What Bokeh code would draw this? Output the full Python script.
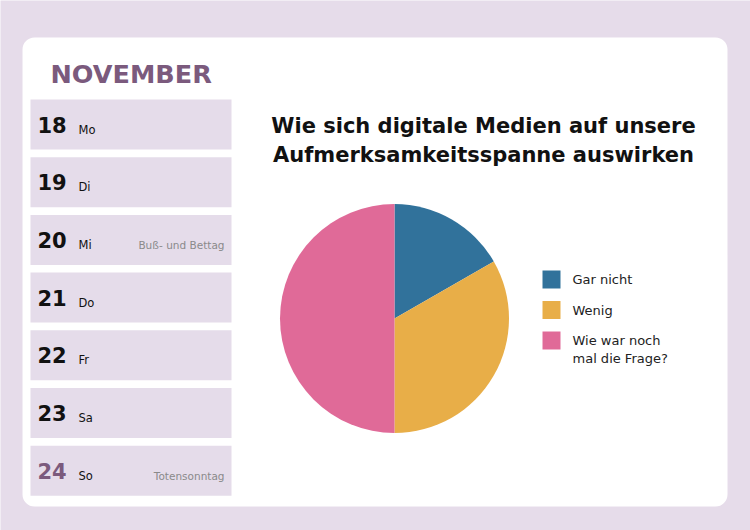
import math
from bokeh.plotting import figure
from bokeh.models import Range1d, ColumnDataSource
from bokeh.core.properties import value
from bokeh.embed import file_html
from bokeh.resources import INLINE

# ---- data ----
month = "NOVEMBER"
days = ["18", "19", "20", "21", "22", "23", "24"]
weekdays = ["Mo", "Di", "Mi", "Do", "Fr", "Sa", "So"]
holidays = ["", "", "Buß- und Bettag", "", "", "", "Totensonntag"]
title_lines = ["Wie sich digitale Medien auf unsere", "Aufmerksamkeitsspanne auswirken"]
categories = ["Gar nicht", "Wenig", "Wie war noch\nmal die Frage?"]
values = [16.7, 33.3, 50.0]
colors = ["#31729b", "#e8ae48", "#e06a98"]

W, H = 750, 530
FONT = "DejaVu Sans"
BG = "#e6dcea"
ROW = "#e5dcea"
PURPLE = "#7b5a7d"

def Y(px):
    return H - px

p = figure(width=W, height=H, x_range=Range1d(0, W), y_range=Range1d(0, H),
           output_backend="svg", toolbar_location=None, min_border=0,
           background_fill_color=BG, border_fill_color=BG, outline_line_color=None)
p.axis.visible = False
p.grid.visible = False

# card
p.quad(left=22, right=727, top=Y(37), bottom=Y(506), fill_color="white",
       line_color=None, border_radius=12)

# month title
p.text(x=[50], y=[Y(73)], text=[month], text_font=value(FONT), text_font_style="bold",
       text_font_size="25.5px", text_color=PURPLE, text_baseline="middle")

# calendar rows
step = 57.7
tops = [99 + i * step for i in range(len(days))]
rows = ColumnDataSource(dict(
    top=[Y(t) for t in tops], bottom=[Y(t + 50) for t in tops],
    ynum=[Y(t + 25) for t in tops], ysmall=[Y(t + 30) for t in tops],
    day=days, wd=weekdays, hol=holidays,
    dcol=["#111111"] * (len(days) - 1) + [PURPLE],
))
p.quad(left=30, right=231, top="top", bottom="bottom", source=rows,
       fill_color=ROW, line_color=None)
p.text(x=37, y="ynum", text="day", source=rows, text_font=value(FONT),
       text_font_style="bold", text_font_size="21px", text_color="dcol",
       text_baseline="middle")
p.text(x=78, y="ysmall", text="wd", source=rows, text_font=value(FONT),
       text_font_size="11.5px", text_color="#111111", text_baseline="middle")
p.text(x=224, y="ysmall", text="hol", source=rows, text_font=value(FONT),
       text_font_size="10.5px", text_color="#8a8a8a", text_baseline="middle",
       text_align="right")

# chart title
p.text(x=[483, 483], y=[Y(125.5), Y(154.5)], text=title_lines, text_font=value(FONT),
       text_font_style="bold", text_font_size="21px", text_color="#111111",
       text_align="center", text_baseline="middle")

# pie
total = sum(values)
cum = [0.0]
for v in values:
    cum.append(cum[-1] + v / total)
starts = [math.pi / 2 - 2 * math.pi * c for c in cum[:-1]]
ends = [math.pi / 2 - 2 * math.pi * c for c in cum[1:]]
p.wedge(x=394, y=Y(318), radius=114.5, start_angle=starts, end_angle=ends,
        direction="clock", fill_color=colors, line_color=None)

# legend
ly = [279 + i * 30.5 for i in range(len(categories))]
p.rect(x=551, y=[Y(v) for v in ly], width=18, height=18, fill_color=colors, line_color=None)
lx, lyy, lt = [], [], []
for yy, lab in zip(ly, categories):
    for k, line in enumerate(lab.split("\n")):
        lx.append(572)
        lyy.append(Y(yy + k * 17.5))
        lt.append(line)
p.text(x=lx, y=lyy, text=lt, text_font=value(FONT),
       text_font_size="13px", text_color="#222222", text_baseline="middle")

open("out.html", "w").write(file_html(p, INLINE))
